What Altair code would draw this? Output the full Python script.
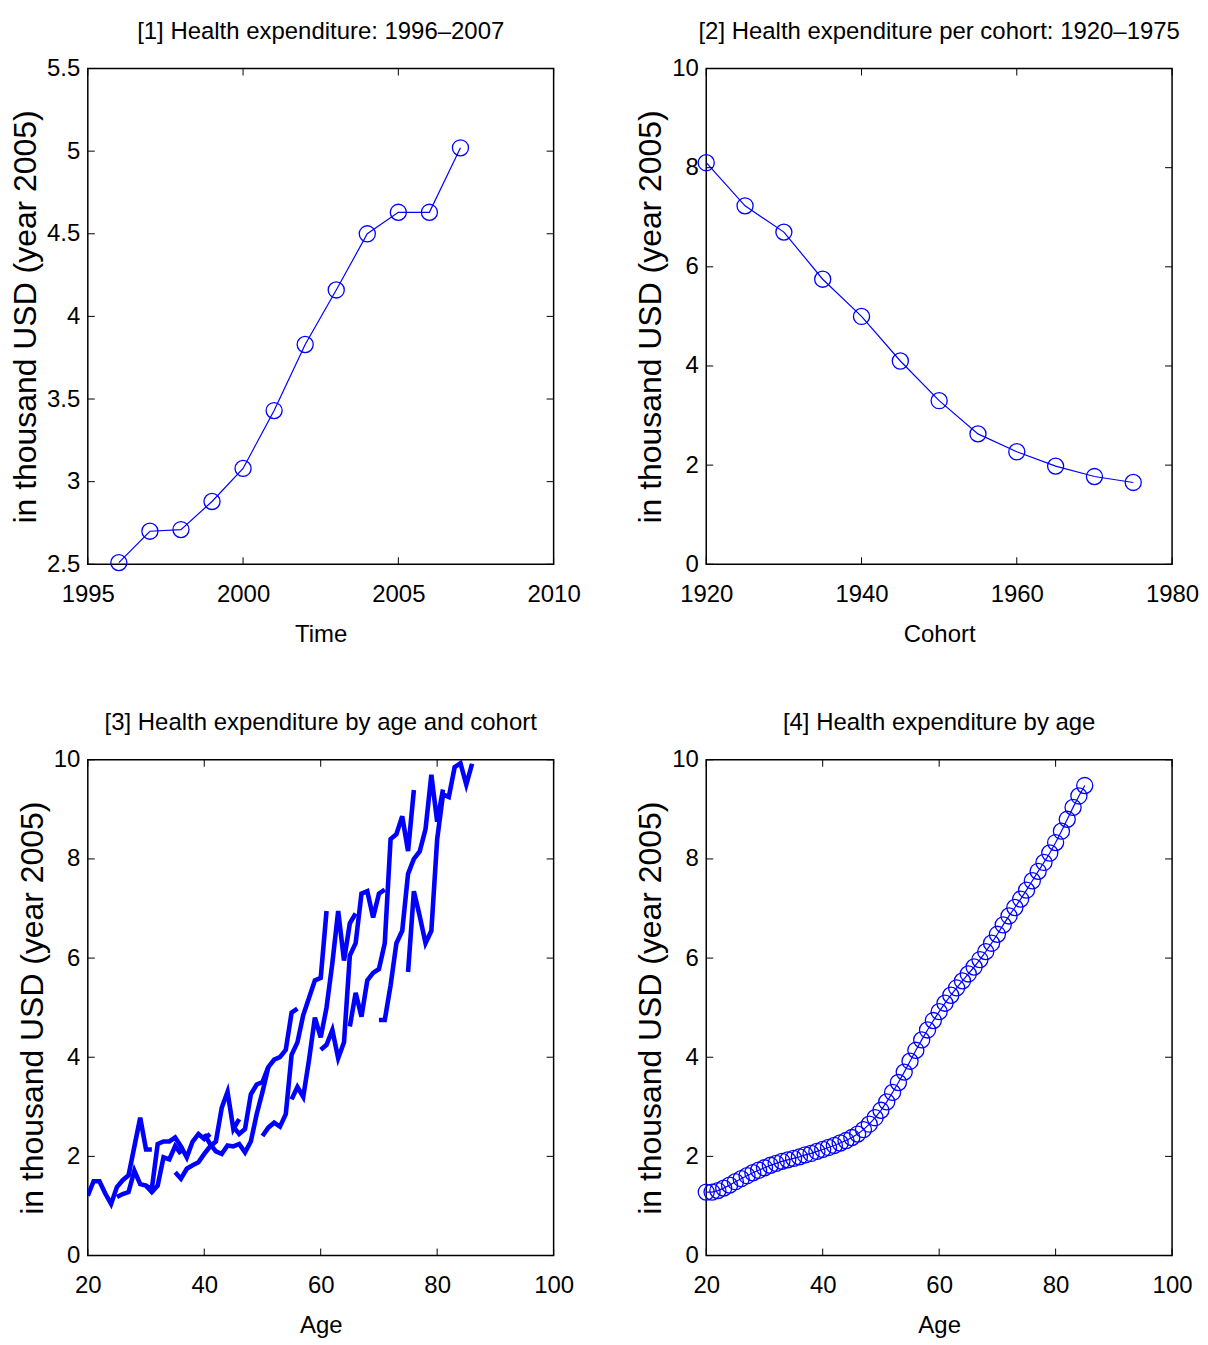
import altair as alt
import pandas as pd

# ---------------- data ----------------
years = list(range(1996, 2008))
spend_by_year = [2.51, 2.70, 2.71, 2.88, 3.08, 3.43, 3.83, 4.16, 4.50, 4.63, 4.63, 5.02]

cohorts = [1920, 1925, 1930, 1935, 1940, 1945, 1950, 1955, 1960, 1965, 1970, 1975]
spend_by_cohort = [8.10, 7.23, 6.70, 5.75, 5.00, 4.10, 3.30, 2.63, 2.27, 1.98, 1.77, 1.65]

# panel 3: each cohort observed over 12 consecutive years of age
cohort_labels = [1975, 1970, 1965, 1960, 1955, 1950, 1945, 1940, 1935, 1930, 1925, 1920]
cohort_first_age = [20, 25, 30, 35, 40, 45, 50, 55, 60, 65, 70, 75]
c1975 = [1.21, 1.50, 1.50, 1.25, 1.04, 1.38, 1.52, 1.62, 2.20, 2.78, 2.14, 2.14]
c1970 = [1.18, 1.24, 1.28, 1.71, 1.44, 1.41, 1.28, 1.41, 1.98, 1.94, 2.21, 2.05]
c1965 = [1.40, 1.35, 2.25, 2.30, 2.30, 2.38, 2.20, 1.98, 2.30, 2.45, 2.35, 2.45]
c1960 = [1.68, 1.55, 1.75, 1.82, 1.88, 2.05, 2.20, 2.30, 2.98, 3.30, 2.55, 2.75]
c1955 = [2.45, 2.25, 2.10, 2.05, 2.22, 2.20, 2.25, 2.08, 2.30, 2.85, 3.30, 3.80]
c1950 = [2.60, 2.45, 2.55, 3.25, 3.45, 3.50, 3.80, 3.95, 4.00, 4.15, 4.90, 4.98]
c1945 = [2.41, 2.58, 2.68, 2.60, 2.85, 4.05, 4.30, 4.85, 5.20, 5.55, 5.60, 6.95]
c1940 = [3.15, 3.40, 3.20, 3.95, 4.80, 4.40, 5.00, 5.90, 6.95, 5.95, 6.70, 6.90]
c1935 = [4.15, 4.25, 4.55, 3.98, 4.30, 6.05, 6.30, 7.30, 7.35, 6.82, 7.30, 7.38]
c1930 = [4.62, 5.30, 4.82, 5.55, 5.70, 5.78, 6.30, 8.40, 8.50, 8.86, 8.16, 9.39]
c1925 = [4.75, 4.75, 5.45, 6.30, 6.55, 7.70, 8.00, 8.15, 8.60, 9.70, 8.75, 9.40]
c1920 = [5.72, 7.35, 6.85, 6.30, 6.55, 8.40, 9.30, 9.25, 9.85, 9.93, 9.50, 9.92]
cohort_series = [c1975, c1970, c1965, c1960, c1955, c1950, c1945, c1940, c1935, c1930, c1925, c1920]

ages = list(range(20, 86))
spend_by_age = [1.28, 1.28, 1.31, 1.36, 1.42, 1.49, 1.55, 1.61, 1.67, 1.72,
                1.77, 1.82, 1.86, 1.90, 1.93, 1.96, 1.99, 2.03, 2.06, 2.10,
                2.14, 2.18, 2.22, 2.27, 2.32, 2.38, 2.45, 2.54, 2.65, 2.78,
                2.93, 3.10, 3.29, 3.49, 3.70, 3.92, 4.14, 4.35, 4.55, 4.74,
                4.92, 5.09, 5.25, 5.40, 5.54, 5.68, 5.82, 5.97, 6.13, 6.30,
                6.48, 6.67, 6.85, 7.02, 7.19, 7.37, 7.56, 7.75, 7.93, 8.12,
                8.33, 8.56, 8.80, 9.04, 9.27, 9.48]

# ---------------- tables ----------------
df1 = pd.DataFrame({"x": years, "y": spend_by_year})
df2 = pd.DataFrame({"x": cohorts, "y": spend_by_cohort})
rows = []
for lab, a0, vals in zip(cohort_labels, cohort_first_age, cohort_series):
    for i, v in enumerate(vals):
        rows.append({"x": a0 + i, "y": v, "cohort": lab})
df3 = pd.DataFrame(rows)
df4 = pd.DataFrame({"x": ages, "y": spend_by_age})

# ---------------- style ----------------
FONT = "Liberation Sans, Arial, Helvetica, sans-serif"
BLUE = "#0000ff"
W, H = 467, 497
TL = 7
FS = 24


def make_panel(df, kind, xdom, xticks, ydom, yticks, xtitle, title):
    xs = alt.Scale(domain=xdom, nice=False, zero=False)
    ys = alt.Scale(domain=ydom, nice=False, zero=False)

    def xaxis():
        return alt.Axis(values=xticks, labelExpr="'' + datum.value", title=xtitle,
                        labelFont=FONT, labelFontSize=FS, titleFont=FONT,
                        titleFontSize=FS, titleFontWeight="normal", labelPadding=18,
                        titlePadding=16, ticks=False, domain=False, grid=False,
                        labelColor="black", titleColor="black", labelFlush=False)

    def yaxis():
        return alt.Axis(values=yticks, labelExpr="'' + datum.value",
                        title="in thousand USD (year 2005)",
                        labelFont=FONT, labelFontSize=FS, titleFont=FONT,
                        titleFontSize=32, titleFontWeight="normal", labelPadding=8,
                        titlePadding=4, ticks=False, domain=False, grid=False,
                        labelColor="black", titleColor="black", labelFlush=False)

    base = alt.Chart(df).encode(
        x=alt.X("x:Q", scale=xs, axis=xaxis()),
        y=alt.Y("y:Q", scale=ys, axis=yaxis()),
    )
    if kind == "thick":
        layers = [base.mark_line(color=BLUE, strokeWidth=4.6, clip=True).encode(detail="cohort:N")]
    else:
        layers = [
            base.mark_line(color=BLUE, strokeWidth=1.2),
            base.mark_point(shape="circle", filled=False, size=260, strokeWidth=1.3,
                            color=BLUE, opacity=1),
        ]
    xt = pd.DataFrame({"x": xticks})
    yt = pd.DataFrame({"y": yticks})
    tx = alt.X("x:Q", scale=xs, axis=xaxis())
    ty = alt.Y("y:Q", scale=ys, axis=yaxis())
    layers += [
        alt.Chart(yt).mark_rule(color="black", strokeWidth=1).encode(
            y=ty, x=alt.value(0), x2=alt.value(TL)),
        alt.Chart(yt).mark_rule(color="black", strokeWidth=1).encode(
            y=ty, x=alt.value(W - TL), x2=alt.value(W)),
        alt.Chart(xt).mark_rule(color="black", strokeWidth=1).encode(
            x=tx, y=alt.value(H - TL), y2=alt.value(H)),
        alt.Chart(xt).mark_rule(color="black", strokeWidth=1).encode(
            x=tx, y=alt.value(0), y2=alt.value(TL)),
    ]
    return alt.layer(*layers).properties(
        width=W, height=H,
        title=alt.TitleParams(title, font=FONT, fontSize=FS, fontWeight="normal",
                              color="black", anchor="middle", offset=13),
    )


p1 = make_panel(df1, "circles", [1995, 2010], [1995, 2000, 2005, 2010],
                [2.5, 5.5], [2.5, 3, 3.5, 4, 4.5, 5, 5.5], "Time",
                "[1] Health expenditure: 1996\u20132007")
p2 = make_panel(df2, "circles", [1920, 1980], [1920, 1940, 1960, 1980],
                [0, 10], [0, 2, 4, 6, 8, 10], "Cohort",
                "[2] Health expenditure per cohort: 1920\u20131975")
p3 = make_panel(df3, "thick", [20, 100], [20, 40, 60, 80, 100],
                [0, 10], [0, 2, 4, 6, 8, 10], "Age",
                "[3] Health expenditure by age and cohort")
p4 = make_panel(df4, "circles", [20, 100], [20, 40, 60, 80, 100],
                [0, 10], [0, 2, 4, 6, 8, 10], "Age",
                "[4] Health expenditure by age")

chart = alt.concat(p1, p2, p3, p4, columns=2, spacing={"row": 196, "column": 153},
                   bounds="flush").properties(
    padding={"left": 0, "top": 9, "right": 0, "bottom": 0},
    background="white",
).configure_view(stroke="black", strokeWidth=1.5)

chart.save("out.html", embed_options={"renderer": "svg", "actions": False})
